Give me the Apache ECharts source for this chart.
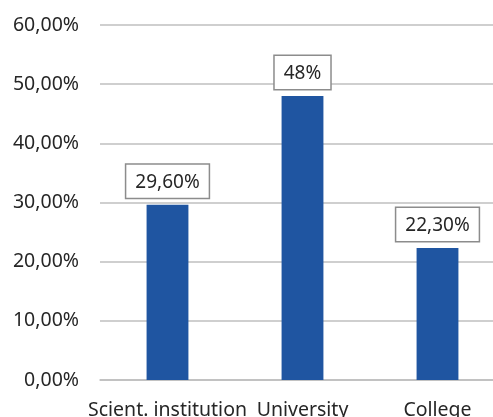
<!DOCTYPE html>
<html><head><meta charset="utf-8">
<script src="https://cdn.jsdelivr.net/npm/echarts@6/dist/echarts.min.js"></script>
<style>html,body{margin:0;padding:0;background:#fff;overflow:hidden;width:493px;height:417px}#c{width:505px;height:417px}</style>
</head><body><div id="c"></div>
<script>
const categories = ["Scient. institution", "University", "College"];
const values = [29.6, 48, 22.3];
const valueLabels = ["29,60%", "48%", "22,30%"];
const yTicks = [0, 10, 20, 30, 40, 50, 60];

const chart = echarts.init(document.getElementById('c'), null, {renderer: 'canvas'});
const FONT = '"Noto Sans", "Open Sans", sans-serif';
chart.setOption({
  animation: false,
  grid: {left: 100, right: 0, top: 25, bottom: 37, containLabel: false, outerBoundsMode: 'none'},
  xAxis: {
    type: 'category', data: categories,
    axisLine: {lineStyle: {color: '#bfbfbf', width: 1.5}},
    axisTick: {show: false},
    axisLabel: {color: '#262626', fontSize: 19.5, fontFamily: FONT, margin: 20, interval: 0}
  },
  yAxis: {
    type: 'value', min: yTicks[0], max: yTicks[yTicks.length-1], interval: 10,
    axisLine: {show: false}, axisTick: {show: false},
    splitLine: {lineStyle: {color: '#bfbfbf', width: 1.5}},
    axisLabel: {color: '#262626', fontSize: 19.5, fontFamily: FONT, margin: 21,
      formatter: v => v.toFixed(2).replace('.', ',') + '%'}
  },
  series: [{
    type: 'bar',
    data: values,
    barWidth: '31%',
    itemStyle: {color: '#1f55a1'},
    label: {
      show: true, position: 'top', distance: 7,
      formatter: p => valueLabels[p.dataIndex],
      color: '#262626', fontSize: 19, fontFamily: FONT,
      backgroundColor: '#fff', borderColor: '#8c8c8c', borderWidth: 1.5,
      padding: [8, 9, 6, 9]
    }
  }]
});
</script></body></html>
